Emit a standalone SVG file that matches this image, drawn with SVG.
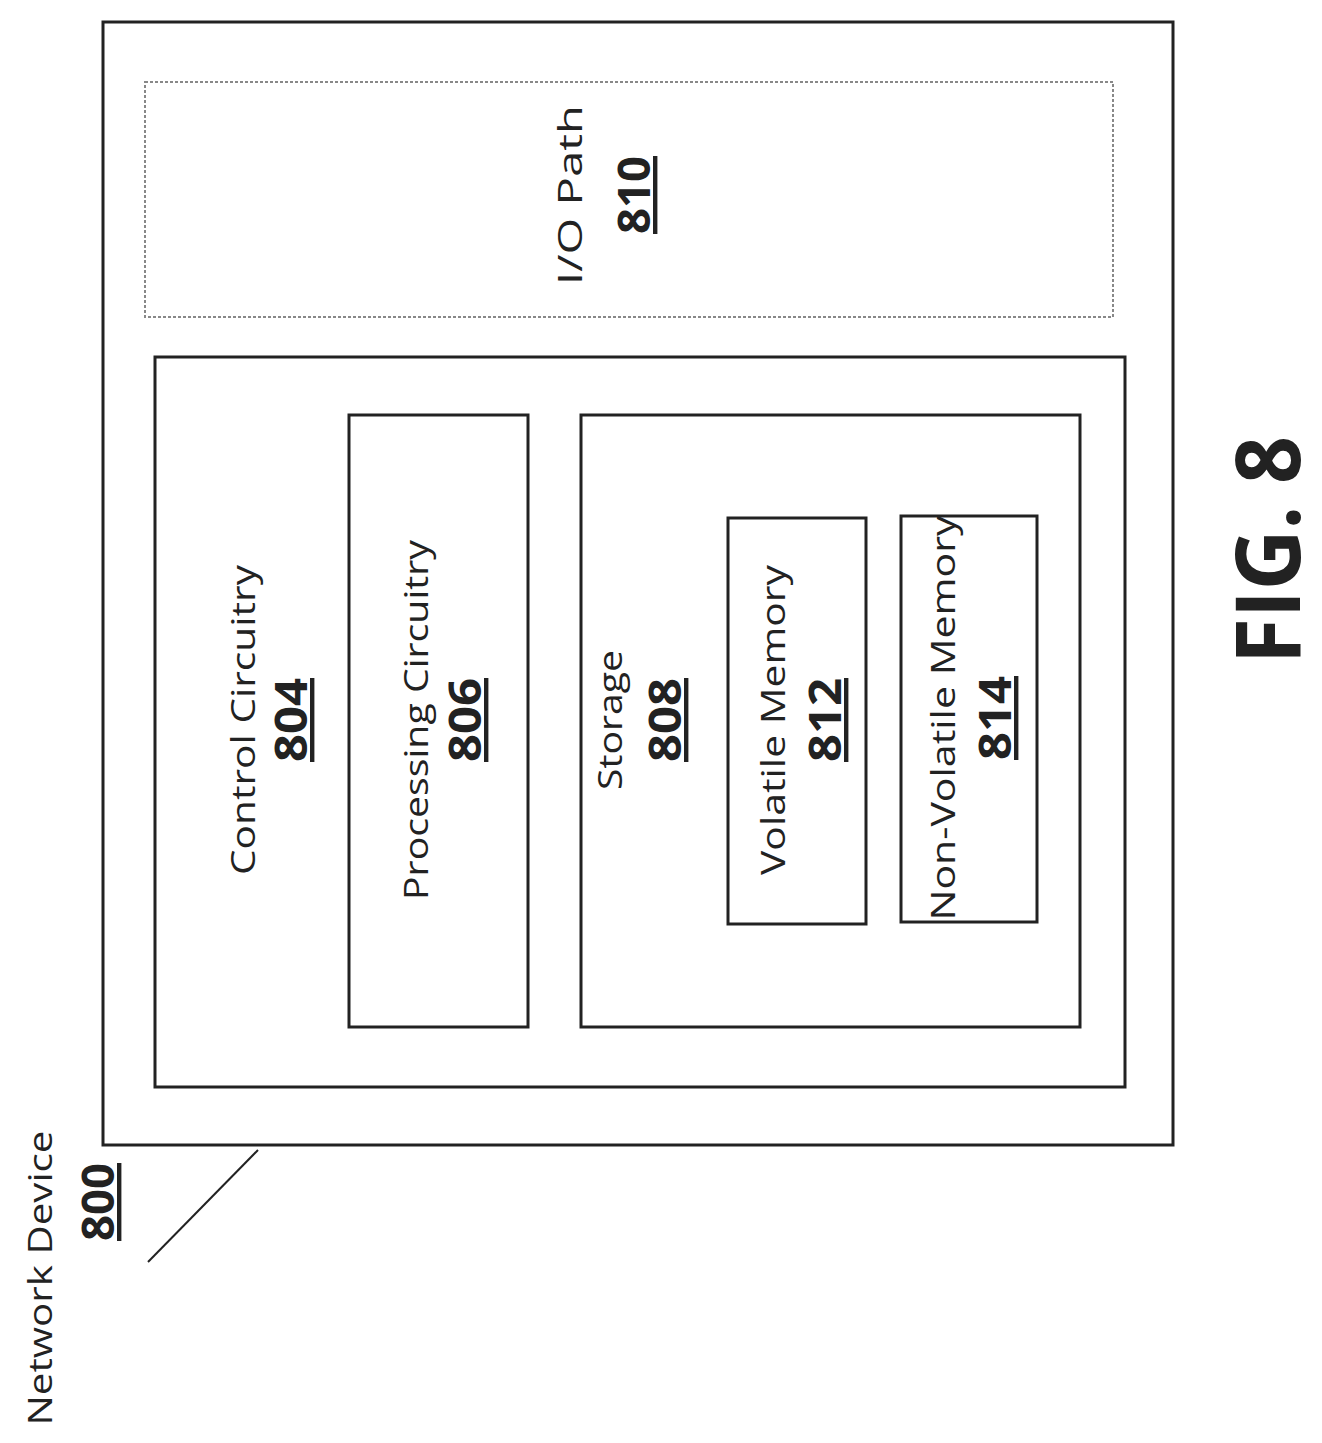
<svg xmlns="http://www.w3.org/2000/svg" width="1322" height="1443" viewBox="0 0 1322 1443">
<style>
.b{fill:none;stroke:#222;stroke-width:3}
.t{font-family:"Open Sans","Liberation Sans",sans-serif;font-size:32px;fill:#222;text-anchor:middle}
.n{font-family:"Open Sans","Liberation Sans",sans-serif;font-size:44px;font-weight:bold;fill:#222;text-anchor:middle;text-decoration:underline}
</style>
<rect width="1322" height="1443" fill="#fff"/>
<g id="n800"><rect class="b" x="103" y="22" width="1070" height="1123"/>
<text class="t" transform="translate(52,1278) rotate(-90)" textLength="295" lengthAdjust="spacingAndGlyphs">Network Device</text>
<text class="n" transform="translate(114,1202) rotate(-90)" textLength="78" lengthAdjust="spacingAndGlyphs">800</text></g>
<g id="n810"><rect x="145" y="82" width="968" height="235" fill="none" stroke="#888" stroke-width="2" stroke-dasharray="3,2"/>
<text class="t" transform="translate(582,195) rotate(-90)" textLength="180" lengthAdjust="spacingAndGlyphs">I/O Path</text>
<text class="n" transform="translate(650,195) rotate(-90)" textLength="78" lengthAdjust="spacingAndGlyphs">810</text></g>
<g id="n804"><rect class="b" x="155" y="357" width="970" height="730"/>
<text class="t" transform="translate(255,720) rotate(-90)" textLength="310" lengthAdjust="spacingAndGlyphs">Control Circuitry</text>
<text class="n" transform="translate(307,720) rotate(-90)" textLength="84" lengthAdjust="spacingAndGlyphs">804</text></g>
<g id="n806"><rect class="b" x="349" y="415" width="179" height="612"/>
<text class="t" transform="translate(428,720) rotate(-90)" textLength="360" lengthAdjust="spacingAndGlyphs">Processing Circuitry</text>
<text class="n" transform="translate(481,720) rotate(-90)" textLength="84" lengthAdjust="spacingAndGlyphs">806</text></g>
<g id="n808"><rect class="b" x="581" y="415" width="499" height="612"/>
<text class="t" transform="translate(622,720) rotate(-90)" textLength="140" lengthAdjust="spacingAndGlyphs">Storage</text>
<text class="n" transform="translate(681,720) rotate(-90)" textLength="84" lengthAdjust="spacingAndGlyphs">808</text></g>
<g id="n812"><rect class="b" x="728" y="518" width="138" height="406"/>
<text class="t" transform="translate(785,720) rotate(-90)" textLength="310" lengthAdjust="spacingAndGlyphs">Volatile Memory</text>
<text class="n" transform="translate(841,720) rotate(-90)" textLength="84" lengthAdjust="spacingAndGlyphs">812</text></g>
<g id="n814"><rect class="b" x="901" y="516" width="136" height="406"/>
<text class="t" transform="translate(955,718) rotate(-90)" textLength="405" lengthAdjust="spacingAndGlyphs">Non-Volatile Memory</text>
<text class="n" transform="translate(1011,718) rotate(-90)" textLength="84" lengthAdjust="spacingAndGlyphs">814</text></g>
<g id="connectors"><line x1="258" y1="1150" x2="148" y2="1262" stroke="#222" stroke-width="2"/></g>
<text transform="translate(1300,550) rotate(-90)" font-family="Open Sans,Liberation Sans,sans-serif" font-size="90" font-weight="bold" fill="#222" text-anchor="middle" textLength="228" lengthAdjust="spacingAndGlyphs">FIG. 8</text>
</svg>
